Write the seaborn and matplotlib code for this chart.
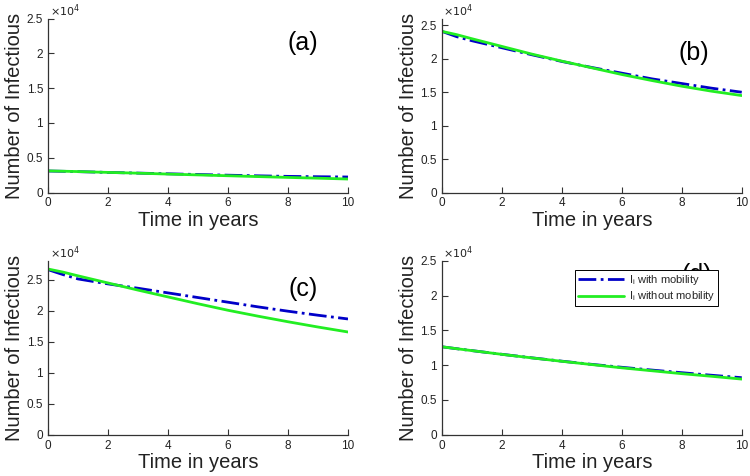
import numpy as np
import pandas as pd
import matplotlib
matplotlib.use("Agg")
import matplotlib.pyplot as plt
import seaborn as sns
from matplotlib.ticker import FuncFormatter

# Data (number of infectious individuals)
years = [0, 0.5, 1, 2, 3, 4, 5, 6, 7, 8, 9, 10]

a_with = [3100, 3060, 3010, 2900, 2800, 2700, 2600, 2500, 2410, 2330, 2280, 2240]
a_without = [3120, 3070, 3020, 2900, 2790, 2660, 2540, 2420, 2300, 2180, 2070, 1950]

b_with = [24100, 23300, 22700, 21650, 20600, 19600, 18700, 17850, 17000, 16300, 15600, 15000]
b_without = [24100, 23600, 23000, 21850, 20700, 19650, 18650, 17650, 16750, 15900, 15150, 14500]

c_with = [26600, 25800, 25100, 24300, 23600, 22850, 22100, 21350, 20600, 19900, 19250, 18650]
c_without = [26700, 26200, 25600, 24450, 23300, 22200, 21100, 20050, 19100, 18200, 17350, 16550]

d_with = [12650, 12370, 12100, 11570, 11060, 10580, 10120, 9700, 9300, 8920, 8550, 8200]
d_without = [12650, 12370, 12100, 11560, 11050, 10560, 10090, 9620, 9200, 8780, 8400, 8000]

panel_labels = ["(a)", "(b)", "(c)", "(d)"]
y_tops = [25000, 26000, 28000, 25000]
label_pos = [(0.85, 0.86), (0.84, 0.80), (0.85, 0.84), (0.85, 0.92)]

sns.set_style("ticks")
plt.rcParams["font.family"] = ["Liberation Sans", "DejaVu Sans"]

fig = plt.figure(figsize=(7.5, 4.76), dpi=100)
rects = [
    [0.064, 0.5954, 0.4, 0.3655],
    [0.589, 0.5954, 0.4, 0.3655],
    [0.064, 0.0868, 0.4, 0.3650],
    [0.589, 0.0868, 0.4, 0.3650],
]
series = [(a_with, a_without), (b_with, b_without), (c_with, c_without), (d_with, d_without)]

blue = "#0000c8"
green = "#22ee22"
grey = "#333333"

for i, (rect, (w, wo)) in enumerate(zip(rects, series)):
    ax = fig.add_axes(rect)
    df = pd.DataFrame({"t": years, "with": w, "without": wo})
    sns.lineplot(data=df, x="t", y="with", ax=ax, color=blue, linestyle="-.",
                 linewidth=2.0, label=r"$\mathregular{I_i}$ with mobility")
    sns.lineplot(data=df, x="t", y="without", ax=ax, color=green, linestyle="-",
                 linewidth=2.0, label=r"$\mathregular{I_i}$ without mobility")
    ax.set_xlim(0, 10)
    ax.set_ylim(0, y_tops[i])
    ax.set_xticks([0, 2, 4, 6, 8, 10])
    ax.set_yticks([0, 5000, 10000, 15000, 20000, 25000])
    ax.yaxis.set_major_formatter(FuncFormatter(lambda v, p: "%g" % (v / 1e4)))
    ax.tick_params(direction="in", length=4, width=0.8, labelsize=8.5,
                   colors=grey, labelcolor="#222222")
    for s in ["left", "bottom"]:
        ax.spines[s].set_color(grey)
        ax.spines[s].set_linewidth(0.9)
    sns.despine(ax=ax)
    ax.set_xlabel("Time in years", fontsize=14.5, color="#222222", labelpad=1)
    ax.set_ylabel("Number of Infectious", fontsize=14.5, color="#222222", labelpad=2)
    ax.text(0.005, 1.0, r"$\times10^{4}$", transform=ax.transAxes, fontsize=8,
            ha="left", va="bottom", color="#222222")
    lx, ly = label_pos[i]
    ax.text(lx, ly, panel_labels[i], transform=ax.transAxes, fontsize=18,
            ha="center", va="center", color="black")
    if i == 3:
        leg = ax.legend(loc="upper right", bbox_to_anchor=(0.92, 0.945), fontsize=8,
                        handlelength=4.2, frameon=True, fancybox=False,
                        borderpad=0.25, labelspacing=0.2, handletextpad=0.4,
                        borderaxespad=0)
        leg.get_frame().set_edgecolor("black")
        leg.get_frame().set_linewidth(0.7)
        leg.get_frame().set_alpha(1)
        leg.set_zorder(10)
    else:
        ax.get_legend().remove()

fig.savefig("out.png", dpi=100)
